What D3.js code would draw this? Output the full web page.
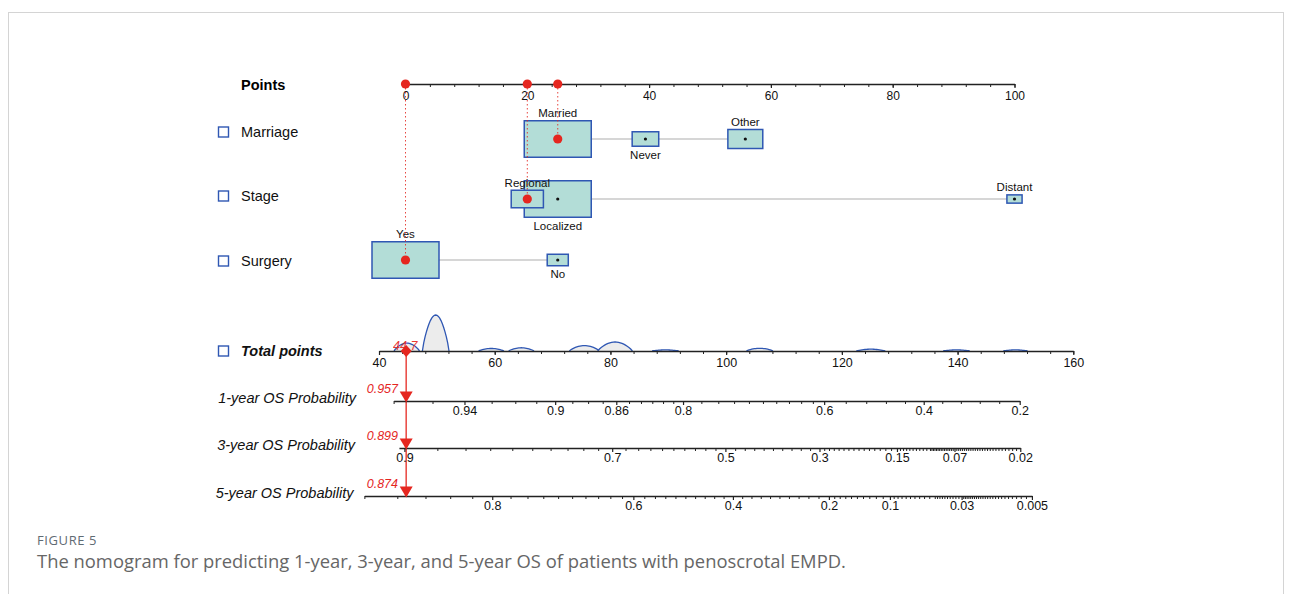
<!DOCTYPE html>
<html><head><meta charset="utf-8">
<script src="https://cdn.jsdelivr.net/npm/d3@7"></script>
<style>
body{margin:0;background:#fff;}
svg{display:block;}
text{font-family:"Liberation Sans",Arial,sans-serif;}
</style>
</head><body>
<svg id="c" width="1292" height="594"></svg>
<script>
// ---------------- data ----------------
const pointTicks = [0, 20, 40, 60, 80, 100];
const pointMinor = d3.range(0, 101, 4);
const totalTicks = [40, 60, 80, 100, 120, 140, 160];
const totalMinor = d3.range(40, 161, 4);

const varNames = ["Marriage", "Stage", "Surgery"];
const marriageLevels = ["Married", "Never", "Other"];
const marriagePoints = [25, 39.4, 55.8];
const marriageFreq = [70, 11, 19];
const stageLevels = ["Regional", "Localized", "Distant"];
const stagePoints = [20, 25, 100];
const stageFreq = [18, 78, 4];
const surgeryLevels = ["Yes", "No"];
const surgeryPoints = [0, 25];
const surgeryFreq = [91, 9];
const selectedLevels = ["Married", "Regional", "Yes"];
const selectedPoints = [25, 20, 0];
const totalScore = 44.7;

const densityCenters = [44.8, 49.8, 59.4, 64.6, 75.5, 80.8, 89.5, 105.8, 125, 139.8, 150];
const densityHeights = [0.22, 1, 0.07, 0.09, 0.15, 0.25, 0.03, 0.075, 0.05, 0.03, 0.03];
const densityWidths = [4.4, 4.6, 4.4, 4.4, 5.2, 6, 4.6, 4.6, 5, 4.6, 4.2];

const probLabels = ["1-year OS Probability", "3-year OS Probability", "5-year OS Probability"];
const probPredicted = [0.957, 0.899, 0.874];
const probRange = [[0.96, 0.2], [0.903, 0.02], [0.9, 0.005]];
const probMajor1 = [0.94, 0.9, 0.86, 0.8, 0.6, 0.4, 0.2];
const probMajor3 = [0.9, 0.7, 0.5, 0.3, 0.15, 0.07, 0.02];
const probMajor5 = [0.8, 0.6, 0.4, 0.2, 0.1, 0.03, 0.005];
const probMinor1 = [0.96, 0.95, 0.93, 0.92, 0.91, 0.89, 0.88, 0.87, 0.85, 0.84, 0.83, 0.82, 0.81,
  0.78, 0.76, 0.74, 0.72, 0.70, 0.68, 0.66, 0.64, 0.62, 0.56, 0.52, 0.48, 0.44, 0.36, 0.32, 0.28, 0.24];
const probMinor3 = [0.88, 0.86, 0.84, 0.82, 0.80, 0.78, 0.76, 0.74, 0.72, 0.68, 0.66, 0.64, 0.62, 0.60,
  0.58, 0.56, 0.54, 0.52, 0.48, 0.46, 0.44, 0.42, 0.40, 0.38, 0.36, 0.34, 0.32,
  0.29, 0.28, 0.27, 0.26, 0.25, 0.24, 0.23, 0.22, 0.21, 0.20, 0.19, 0.18, 0.17, 0.16,
  0.145, 0.14, 0.135, 0.13, 0.125, 0.12, 0.115, 0.11, 0.105,
  0.1, 0.098, 0.096, 0.094, 0.092, 0.09, 0.088, 0.086, 0.084, 0.082, 0.08, 0.078, 0.076, 0.074, 0.072,
  0.068, 0.066, 0.064, 0.062, 0.06, 0.058, 0.056, 0.054, 0.052, 0.05, 0.048, 0.046, 0.044, 0.042,
  0.04, 0.038, 0.036, 0.034, 0.032, 0.03, 0.028, 0.026, 0.024, 0.022];
const probMinor5 = [0.9, 0.88, 0.86, 0.84, 0.82, 0.78, 0.76, 0.74, 0.72, 0.70, 0.68, 0.66, 0.64, 0.62,
  0.58, 0.56, 0.54, 0.52, 0.50, 0.48, 0.46, 0.44, 0.42, 0.38, 0.36, 0.34, 0.32, 0.30, 0.28, 0.26, 0.24, 0.22,
  0.19, 0.18, 0.17, 0.16, 0.15, 0.14, 0.13, 0.12, 0.11,
  0.095, 0.09, 0.085, 0.08, 0.075, 0.07, 0.065, 0.06, 0.055, 0.05,
  0.048, 0.046, 0.044, 0.042, 0.04, 0.038, 0.036, 0.034, 0.032,
  0.029, 0.028, 0.027, 0.026, 0.025, 0.024, 0.023, 0.022, 0.021, 0.02, 0.019, 0.018, 0.017, 0.016,
  0.015, 0.014, 0.013, 0.012, 0.011, 0.01, 0.009, 0.008, 0.007, 0.006];
const probSlope = 29.45; // total points per unit of log(-log(S))

// ---------------- drawing ----------------
const svg = d3.select("#c");
const RED = "#e5261f", BLUE = "#2f57b3", FILL = "#b3ddd7";

// frame
svg.append("rect").attr("x", 8.5).attr("y", 12.5).attr("width", 1275).attr("height", 620)
  .attr("fill", "none").attr("stroke", "#d4d4d4").attr("stroke-width", 1);

const xP = d3.scaleLinear().domain([0, 100]).range([405.5, 1014.5]);
const xT = d3.scaleLinear().domain([40, 160]).range([379, 1073.3]);

const yPts = 84, yTot = 351;
const rowY = [139, 199, 260];
const labelY = [132, 196, 261];

function drawAxis(scale, y, major, minor, fmt, labelOff, fs) {
  const g = svg.append("g").attr("transform", `translate(0,${y})`);
  g.call(d3.axisBottom(scale).tickValues(minor).tickSize(3).tickSizeOuter(0).tickFormat(""))
    .call(s => s.selectAll("line").attr("stroke", "#222").attr("stroke-width", 1))
    .call(s => s.select(".domain").attr("stroke", "#222").attr("stroke-width", 1.6));
  const g2 = svg.append("g").attr("transform", `translate(0,${y})`);
  g2.call(d3.axisBottom(scale).tickValues(major).tickSize(4).tickSizeOuter(0).tickFormat(fmt))
    .call(s => s.select(".domain").remove())
    .call(s => s.selectAll("line").attr("stroke", "#222").attr("stroke-width", 1.2))
    .call(s => s.selectAll("text").attr("y", labelOff).attr("dy", 0)
      .attr("font-family", "Liberation Sans, Arial, sans-serif").attr("font-size", fs).attr("fill", "#111"));
  return g;
}

// Points axis
svg.append("text").attr("x", 241).attr("y", 90).attr("font-size", 14.5).attr("font-weight", "bold").text("Points");
drawAxis(xP, yPts, pointTicks, pointMinor, d => d, 16, 12);

// variable rows
const vars = [
  {levels: marriageLevels, pts: marriagePoints, freq: marriageFreq},
  {levels: stageLevels, pts: stagePoints, freq: stageFreq},
  {levels: surgeryLevels, pts: surgeryPoints, freq: surgeryFreq}
];
const BW = 67, BH = 36.5;

vars.forEach((v, vi) => {
  const y = rowY[vi];
  svg.append("rect").attr("x", 218.5).attr("y", labelY[vi] - 5).attr("width", 10).attr("height", 10)
    .attr("fill", "none").attr("stroke", BLUE).attr("stroke-width", 1.4);
  svg.append("text").attr("x", 241).attr("y", labelY[vi] + 5).attr("font-size", 14.5).attr("fill", "#111").text(varNames[vi]);
  const ext = d3.extent(v.pts);
  svg.append("line").attr("x1", xP(ext[0])).attr("x2", xP(ext[1])).attr("y1", y).attr("y2", y)
    .attr("stroke", "#c9c9c9").attr("stroke-width", 1.5);
  const fmax = d3.max(v.freq);
  const items = v.levels.map((l, i) => {
    const k = Math.sqrt(v.freq[i] / fmax);
    return {l, i, x: xP(v.pts[i]), w: BW * k, h: BH * k};
  });
  items.slice().sort((a, b) => b.w - a.w).forEach(it => {
    svg.append("rect").attr("x", it.x - it.w / 2).attr("y", y - it.h / 2).attr("width", it.w).attr("height", it.h)
      .attr("fill", FILL).attr("stroke", BLUE).attr("stroke-width", 1.5);
  });
  items.forEach(it => {
    svg.append("circle").attr("cx", it.x).attr("cy", y).attr("r", 1.6).attr("fill", "#111");
    const above = it.i % 2 === 0;
    svg.append("text").attr("x", it.x).attr("y", above ? y - it.h / 2 - 3.5 : y + it.h / 2 + 12.5)
      .attr("text-anchor", "middle").attr("font-size", 11.5).attr("fill", "#111").text(it.l);
  });
});

// selected-point dotted lines and red dots
vars.forEach((v, vi) => {
  const x = xP(selectedPoints[vi]);
  svg.append("line").attr("x1", x).attr("x2", x).attr("y1", yPts).attr("y2", rowY[vi])
    .attr("stroke", RED).attr("stroke-width", 1).attr("stroke-dasharray", "1.5,2.5").attr("opacity", 0.85);
  svg.append("circle").attr("cx", x).attr("cy", rowY[vi]).attr("r", 4.6).attr("fill", RED);
  svg.append("circle").attr("cx", x).attr("cy", yPts).attr("r", 4.6).attr("fill", RED);
});

// density above total points
const yD = d3.scaleLinear().domain([0, 1]).range([yTot, yTot - 36]);
const bumpLine = d3.line().x(d => xT(d[0])).y(d => yD(d[1]));
densityCenters.forEach((c, i) => {
  const w = densityWidths[i], h = densityHeights[i];
  const pts = d3.range(0, 1.0001, 0.05).map(u => [c - w / 2 + u * w, h * Math.pow(Math.sin(Math.PI * u), 0.8)]);
  svg.append("path").attr("d", bumpLine(pts)).attr("fill", "#ececec").attr("stroke", BLUE).attr("stroke-width", 1.3);
});

// total points axis
svg.append("rect").attr("x", 218.5).attr("y", 346).attr("width", 10).attr("height", 10)
  .attr("fill", "none").attr("stroke", BLUE).attr("stroke-width", 1.4);
svg.append("text").attr("x", 241).attr("y", 356).attr("font-size", 14.5).attr("font-weight", "bold")
  .attr("font-style", "italic").attr("fill", "#111").text("Total points");
drawAxis(xT, yTot, totalTicks, totalMinor, d => d, 16, 12.5);

// probability axes
const cl = p => Math.log(-Math.log(p));
const probY = [401, 448, 496];
const labelRight = [356, 355, 353.5];
const majors = [probMajor1, probMajor3, probMajor5];
const minors = [probMinor1, probMinor3, probMinor5];
const xTot = xT(totalScore);

// red vertical line
svg.append("line").attr("x1", xTot).attr("x2", xTot).attr("y1", yTot).attr("y2", probY[2])
  .attr("stroke", RED).attr("stroke-width", 1.6).attr("opacity", 0.8);

probLabels.forEach((lab, i) => {
  const p0 = probPredicted[i];
  const base = d3.scaleLinear().domain([cl(p0), cl(p0) + 1]).range([xT(totalScore), xT(totalScore + probSlope)]);
  const r = probRange[i];
  const sc = d3.scaleLinear().domain([cl(r[0]), cl(r[1])]).range([base(cl(r[0])), base(cl(r[1]))]);
  const fmtMap = new Map(majors[i].map(p => [cl(p), String(p)]));
  drawAxis(sc, probY[i], majors[i].map(cl), minors[i].map(cl), d => fmtMap.get(d), 14, 12.5);
  svg.append("text").attr("x", labelRight[i]).attr("y", probY[i] + 2).attr("text-anchor", "end")
    .attr("font-size", 14.5).attr("font-style", "italic").attr("fill", "#111").text(lab);
  svg.append("text").attr("x", 398).attr("y", probY[i] - 8).attr("text-anchor", "end")
    .attr("font-size", 12.5).attr("font-style", "italic").attr("fill", RED).text(String(p0));
  const tx = base(cl(p0)), ty = probY[i];
  svg.append("path").attr("d", `M${tx - 6.5},${ty - 9.5}L${tx + 6.5},${ty - 9.5}L${tx},${ty + 1.5}Z`).attr("fill", RED);
});

// diamond and total score label
svg.append("path").attr("d", `M${xTot},${yTot - 6}L${xTot + 5.5},${yTot}L${xTot},${yTot + 6}L${xTot - 5.5},${yTot}Z`).attr("fill", RED);
svg.append("text").attr("x", xTot - 1).attr("y", yTot - 1.5).attr("text-anchor", "middle")
  .attr("font-size", 12.5).attr("font-style", "italic").attr("fill", RED).attr("opacity", 0.9).text(String(totalScore));

// caption
svg.append("text").attr("x", 37).attr("y", 545).style("font-family", "'Open Sans', sans-serif")
  .attr("font-size", 13).attr("fill", "#5f6b73").attr("letter-spacing", 0.6).text("FIGURE 5");
svg.append("text").attr("x", 37).attr("y", 568).style("font-family", "'Open Sans', sans-serif")
  .attr("font-size", 18.4).attr("fill", "#666").text("The nomogram for predicting 1-year, 3-year, and 5-year OS of patients with penoscrotal EMPD.");
</script>
</body></html>
